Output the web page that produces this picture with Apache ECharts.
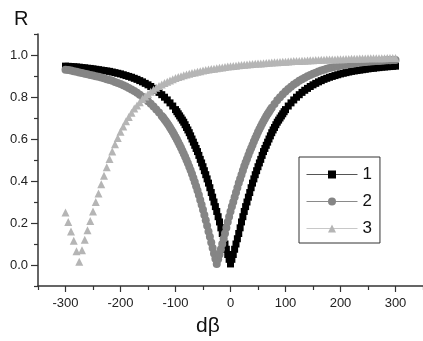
<!DOCTYPE html>
<html lang="en">
<head>
    <meta charset="utf-8">
    <title>R vs dβ</title>
    <script src="https://cdn.jsdelivr.net/npm/echarts/dist/echarts.min.js"></script>
</head>
<body onload="init()" style="margin:0;">
<div id="main" style="width: 423px; height: 341px;"></div>
</body>
<script type="text/javascript">

    // curve 1 (black squares): positions, denser around the dip
    const dBeta1 = [
        -300, -295, -290, -285, -280, -275, -270, -265, -260, -255,
        -250, -245, -240, -235, -230, -225, -220, -215, -210, -205,
        -200, -195, -190, -185, -180, -175, -170, -165, -160, -155,
        -150, -145, -140, -135, -130, -125, -120, -115, -110, -105,
        -100, -97.5, -95, -92.5, -90, -87.5, -85, -82.5, -80, -77.5,
        -75, -72.5, -70, -67.5, -65, -62.5, -60, -57.5, -55, -52.5,
        -50, -47.5, -45, -42.5, -40, -37.5, -35, -32.5, -30, -27.5,
        -25, -22.5, -20, -17.5, -15, -12.5, -10, -7.5, -5, -2.5,
        0,
        2.5, 5, 7.5, 10, 12.5, 15, 17.5, 20, 22.5, 25,
        27.5, 30, 32.5, 35, 37.5, 40, 42.5, 45, 47.5, 50,
        52.5, 55, 57.5, 60, 62.5, 65, 67.5, 70, 72.5, 75,
        77.5, 80, 82.5, 85, 87.5, 90, 92.5, 95, 97.5, 100,
        105, 110, 115, 120, 125, 130, 135, 140, 145, 150,
        155, 160, 165, 170, 175, 180, 185, 190, 195, 200,
        205, 210, 215, 220, 225, 230, 235, 240, 245, 250,
        255, 260, 265, 270, 275, 280, 285, 290, 295, 300
    ];
    const r1 = [
        0.947, 0.946, 0.945, 0.944, 0.943, 0.942, 0.94, 0.939, 0.937, 0.936,
        0.934, 0.932, 0.93, 0.928, 0.926, 0.924, 0.922, 0.919, 0.916, 0.913,
        0.91, 0.906, 0.902, 0.898, 0.894, 0.889, 0.884, 0.878, 0.872, 0.865,
        0.858, 0.85, 0.841, 0.832, 0.822, 0.811, 0.799, 0.786, 0.772, 0.757,
        0.74, 0.73, 0.72, 0.71, 0.70, 0.69, 0.68, 0.668, 0.655, 0.643,
        0.63, 0.615, 0.6, 0.585, 0.57, 0.555, 0.54, 0.522, 0.503, 0.486,
        0.468, 0.449, 0.43, 0.41, 0.39, 0.368, 0.345, 0.323, 0.3, 0.278,
        0.255, 0.23, 0.205, 0.177, 0.15, 0.125, 0.1, 0.075, 0.05, 0.027,
        0.005,
        0.027, 0.05, 0.075, 0.1, 0.125, 0.15, 0.177, 0.205, 0.23, 0.255,
        0.278, 0.3, 0.323, 0.345, 0.368, 0.39, 0.41, 0.43, 0.449, 0.468,
        0.486, 0.503, 0.522, 0.54, 0.555, 0.57, 0.585, 0.6, 0.615, 0.63,
        0.643, 0.655, 0.668, 0.68, 0.69, 0.70, 0.71, 0.72, 0.73, 0.74,
        0.757, 0.772, 0.786, 0.799, 0.811, 0.822, 0.832, 0.841, 0.85, 0.858,
        0.865, 0.872, 0.878, 0.884, 0.889, 0.894, 0.898, 0.902, 0.906, 0.91,
        0.913, 0.916, 0.919, 0.922, 0.924, 0.926, 0.928, 0.93, 0.932, 0.934,
        0.936, 0.937, 0.939, 0.94, 0.942, 0.943, 0.944, 0.945, 0.946, 0.947
    ];

    // curve 2 (grey circles): positions, denser around the dip near -25
    const dBeta2 = [
        -300, -295, -290, -285, -280, -275, -270, -265, -260, -255,
        -250, -245, -240, -235, -230, -225, -220, -215, -210, -205,
        -200, -195, -190, -185, -180, -175, -170, -165, -160, -155,
        -150, -145, -140, -135, -130,
        -125, -122.5, -120, -117.5, -115, -112.5, -110, -107.5, -105, -102.5,
        -100, -97.5, -95, -92.5, -90, -87.5, -85, -82.5, -80, -77.5,
        -75, -72.5, -70, -67.5, -65, -62.5, -60, -57.5, -55, -52.5,
        -50, -47.5, -45, -42.5, -40, -37.5, -35, -32.5, -30, -27.5,
        -25,
        -22.5, -20, -17.5, -15, -12.5, -10, -7.5, -5, -2.5, 0,
        2.5, 5, 7.5, 10, 12.5, 15, 17.5, 20, 22.5, 25,
        27.5, 30, 32.5, 35, 37.5, 40, 42.5, 45, 47.5, 50,
        52.5, 55, 57.5, 60, 62.5, 65, 67.5, 70, 72.5, 75,
        80, 85, 90, 95, 100,
        105, 110, 115, 120, 125, 130, 135, 140, 145, 150,
        155, 160, 165, 170, 175, 180, 185, 190, 195, 200,
        205, 210, 215, 220, 225, 230, 235, 240, 245, 250,
        255, 260, 265, 270, 275, 280, 285, 290, 295, 300
    ];
    const r2 = [
        0.93, 0.928, 0.926, 0.923, 0.92, 0.917, 0.914, 0.911, 0.908, 0.905,
        0.902, 0.899, 0.896, 0.893, 0.889, 0.885, 0.881, 0.877, 0.872, 0.867,
        0.862, 0.856, 0.85, 0.843, 0.836, 0.828, 0.82, 0.811, 0.801, 0.791,
        0.78, 0.768, 0.755, 0.741, 0.726,
        0.71, 0.702, 0.693, 0.684, 0.675, 0.665, 0.655, 0.644, 0.633, 0.622,
        0.61, 0.598, 0.585, 0.572, 0.558, 0.544, 0.53, 0.515, 0.5, 0.484,
        0.468, 0.451, 0.433, 0.414, 0.395, 0.375, 0.355, 0.333, 0.31, 0.287,
        0.263, 0.238, 0.213, 0.187, 0.16, 0.134, 0.107, 0.081, 0.055, 0.03,
        0.005,
        0.027, 0.05, 0.075, 0.1, 0.125, 0.15, 0.177, 0.205, 0.23, 0.255,
        0.278, 0.3, 0.323, 0.345, 0.368, 0.39, 0.41, 0.43, 0.45, 0.47,
        0.488, 0.505, 0.523, 0.54, 0.556, 0.572, 0.588, 0.603, 0.618, 0.633,
        0.647, 0.66, 0.673, 0.685, 0.697, 0.708, 0.719, 0.729, 0.739, 0.749,
        0.767, 0.784, 0.799, 0.813, 0.826,
        0.838, 0.849, 0.859, 0.868, 0.877, 0.885, 0.892, 0.899, 0.905, 0.911,
        0.916, 0.921, 0.926, 0.93, 0.934, 0.938, 0.941, 0.944, 0.947, 0.95,
        0.952, 0.954, 0.956, 0.958, 0.96, 0.962, 0.964, 0.965, 0.967, 0.968,
        0.969, 0.97, 0.971, 0.972, 0.973, 0.974, 0.975, 0.975, 0.976, 0.976
    ];

    // curve 3 (light grey triangles)
    const dBeta3 = [
        -300, -295, -290, -285, -280, -275, -270, -265, -260, -255,
        -250, -245, -240, -235, -230, -225, -220, -215, -210, -205,
        -200, -195, -190, -185, -180, -175, -170, -165, -160, -155,
        -150, -145, -140, -135, -130, -125, -120, -115, -110, -105,
        -100, -95, -90, -85, -80, -75, -70, -65, -60, -55,
        -50, -45, -40, -35, -30, -25, -20, -15, -10, -5,
        0,
        5, 10, 15, 20, 25, 30, 35, 40, 45, 50,
        55, 60, 65, 70, 75, 80, 85, 90, 95, 100,
        105, 110, 115, 120, 125, 130, 135, 140, 145, 150,
        155, 160, 165, 170, 175, 180, 185, 190, 195, 200,
        205, 210, 215, 220, 225, 230, 235, 240, 245, 250,
        255, 260, 265, 270, 275, 280, 285, 290, 295, 300
    ];
    const r3 = [
        0.25, 0.205, 0.16, 0.115, 0.065, 0.015, 0.07, 0.12, 0.165, 0.21,
        0.255, 0.3, 0.34, 0.385, 0.425, 0.465, 0.505, 0.54, 0.575, 0.605,
        0.635, 0.66, 0.685, 0.705, 0.725, 0.745, 0.76, 0.775, 0.79, 0.802,
        0.814, 0.825, 0.835, 0.844, 0.852, 0.86, 0.867, 0.873, 0.879, 0.885,
        0.89, 0.895, 0.899, 0.903, 0.907, 0.911, 0.914, 0.917, 0.92, 0.923,
        0.926, 0.928, 0.931, 0.933, 0.935, 0.937, 0.939, 0.941, 0.943, 0.945,
        0.946,
        0.948, 0.949, 0.951, 0.952, 0.953, 0.955, 0.956, 0.957, 0.958, 0.959,
        0.96, 0.961, 0.962, 0.963, 0.964, 0.965, 0.966, 0.967, 0.968, 0.968,
        0.969, 0.97, 0.971, 0.971, 0.972, 0.973, 0.973, 0.974, 0.975, 0.975,
        0.976, 0.976, 0.977, 0.977, 0.978, 0.978, 0.979, 0.979, 0.98, 0.98,
        0.98, 0.981, 0.981, 0.982, 0.982, 0.982, 0.983, 0.983, 0.983, 0.984,
        0.984, 0.984, 0.985, 0.985, 0.985, 0.985, 0.986, 0.986, 0.986, 0.986
    ];

    const seriesNames = ['1', '2', '3'];
    const xTicks = [-300, -200, -100, 0, 100, 200, 300];
    const yTicks = [0, 0.2, 0.4, 0.6, 0.8, 1.0];

    const font = 'Liberation Sans, Arial, sans-serif';
    const axisColor = '#333';

    function pairs(xs, ys) {
        return xs.map(function (x, i) { return [x, ys[i]]; });
    }

    function init() {
        let myChart = echarts.init(document.getElementById('main'));
        const option = {
            animation: false,
            title: [
                {text: 'R', left: 14, top: 9, padding: 0,
                    textStyle: {fontSize: 20, fontWeight: 'normal', color: '#111', fontFamily: font}},
                {text: 'dβ', left: 196, top: 316, padding: 0,
                    textStyle: {fontSize: 21, fontWeight: 'normal', color: '#111', fontFamily: font}}
            ],
            grid: {left: 38, right: 0, top: 34, bottom: 55},
            legend: {
                orient: 'vertical',
                left: 299,
                top: 157,
                padding: [9, 8, 6, 7],
                itemGap: 10,
                itemWidth: 51,
                itemHeight: 10,
                borderColor: '#333',
                borderWidth: 1,
                lineStyle: {opacity: 1, width: 1},
                textStyle: {fontSize: 17, color: '#111', fontFamily: font},
                data: seriesNames
            },
            xAxis: [
                {   // minor ticks
                    type: 'value', min: -350, max: 350, interval: 100,
                    axisLine: {onZero: false, lineStyle: {color: axisColor, width: 1.5}},
                    axisTick: {length: 4, lineStyle: {color: axisColor, width: 1.2}},
                    axisLabel: {show: false},
                    splitLine: {show: false}
                },
                {   // major ticks + labels
                    type: 'value', min: -350, max: 350, position: 'bottom',
                    axisLine: {show: false, onZero: false},
                    axisTick: {customValues: xTicks, length: 6, lineStyle: {color: axisColor, width: 1.2}},
                    axisLabel: {customValues: xTicks, fontSize: 13, margin: 11, color: '#222', fontFamily: font},
                    splitLine: {show: false}
                }
            ],
            yAxis: [
                {
                    type: 'value', min: -0.1, max: 1.1, interval: 0.2,
                    axisLine: {show: true, onZero: false, lineStyle: {color: axisColor, width: 1.5}},
                    axisTick: {show: true, length: 4, lineStyle: {color: axisColor, width: 1.2}},
                    axisLabel: {show: false},
                    splitLine: {show: false}
                },
                {
                    type: 'value', min: -0.1, max: 1.1, position: 'left',
                    axisLine: {show: false, onZero: false},
                    axisTick: {show: true, customValues: yTicks, length: 7, lineStyle: {color: axisColor, width: 1.2}},
                    axisLabel: {
                        customValues: yTicks, fontSize: 13, margin: 10, color: '#222', fontFamily: font,
                        formatter: function (v) { return v.toFixed(1); }
                    },
                    splitLine: {show: false}
                }
            ],
            series: [
                {
                    name: seriesNames[0], type: 'line', data: pairs(dBeta1, r1),
                    symbol: 'rect', symbolSize: 7, showAllSymbol: true,
                    itemStyle: {color: '#000'},
                    lineStyle: {opacity: 0, color: '#555'}
                },
                {
                    name: seriesNames[1], type: 'line', data: pairs(dBeta2, r2),
                    symbol: 'circle', symbolSize: 8, showAllSymbol: true,
                    itemStyle: {color: '#858585'},
                    lineStyle: {opacity: 0, color: '#8a8a8a'}
                },
                {
                    name: seriesNames[2], type: 'line', data: pairs(dBeta3, r3),
                    symbol: 'triangle', symbolSize: 8, showAllSymbol: true,
                    itemStyle: {color: '#b5b5b5'},
                    lineStyle: {opacity: 0, color: '#c8c8c8'}
                }
            ]
        };
        myChart.setOption(option);
    }
</script>
</html>
